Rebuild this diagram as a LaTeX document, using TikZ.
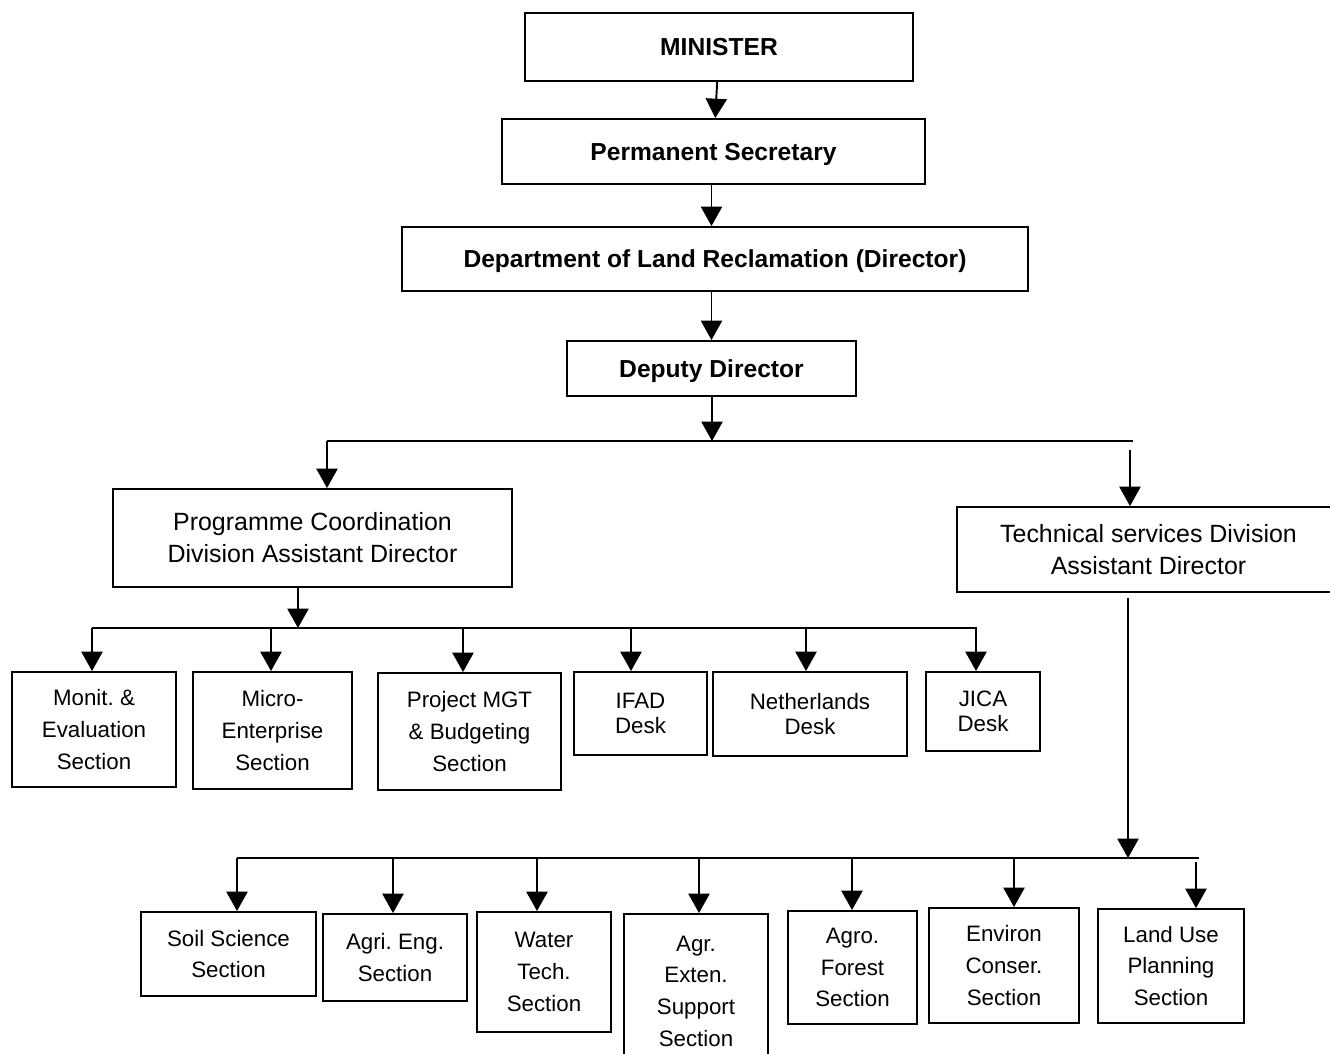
\documentclass[tikz,border=0pt]{standalone}
\usepackage{fontspec}
\setmainfont{Liberation Sans}
\usetikzlibrary{arrows.meta, positioning}
\frenchspacing

\begin{document}
\begin{tikzpicture}[x=0.02cm, y=-0.02cm, line width=1.1pt,
    box/.style 2 args={draw, align=center, inner sep=0pt,
      minimum width=#1*0.02cm, minimum height=#2*0.02cm,
      font=\fontsize{12.7}{18}\selectfont},
    hd/.style={font=\fontsize{14}{18.1}\selectfont\bfseries, text height=10pt, text depth=0pt},
    div/.style={font=\fontsize{14.2}{18.2}\selectfont},
    desk/.style={font=\fontsize{12.7}{14.5}\selectfont},
    arr/.style={-{Triangle[length=11pt, width=12pt]}}]
    \useasboundingbox (0,0) rectangle (1330,1054);

    % top chain
    \node[box={388}{68}, hd] (min) at (719,47)     {MINISTER};
    \node[box={423}{65}, hd] (ps) at (713.5,151.5) {Permanent Secretary};
    \node[box={626}{64}, hd] (dept) at (715,259)   {Department of Land Reclamation (Director)};
    \node[box={289}{55}, hd] (dep) at (711.5,368.5) {Deputy Director};
    \draw[arr] (min) -- (ps);
    \draw[arr] (ps.south -| dep) -- (dept.north -| dep);
    \draw[arr] (dept.south -| dep) -- (dep);

    % divisions
    \node[box={399}{98}, div] (pc) at (312.5,538)  {Programme Coordination\\Division Assistant Director};
    \node[box={383}{85}, div] (ts) at (1148.5,549.5) {Technical services Division\\Assistant Director};
    \coordinate (j1) at (712,441);
    \coordinate (j1l) at (327,441);
    \coordinate (j1r) at (1133,441);
    \coordinate (k1) at (1130,450);
    \draw[arr] (dep.south -| j1) -- (j1);
    \draw (j1l) -- (j1r);
    \draw[arr] (j1l) -- (j1l |- pc.north);
    \draw[arr] (k1) -- (k1 |- ts.north);

    % programme coordination sections
    \node[box={164}{115}] (me) at (94,729.5)   {Monit. \&\\Evaluation\\Section};
    \node[box={159}{117}] (mi) at (272.5,730.5) {Micro-\\Enterprise\\Section};
    \node[box={183}{117}] (pm) at (469.5,731.5) {Project MGT\\\& Budgeting\\Section};
    \node[box={133}{83}, desk] (ifad) at (640.5,713.5) {IFAD\\Desk};
    \node[box={194}{84}, desk] (nl) at (810,714)       {Netherlands\\Desk};
    \node[box={114}{79}, desk] (jica) at (983,711.5)   {JICA\\Desk};
    \coordinate (j2) at (298,628);
    \coordinate (j2l) at (92,628);
    \coordinate (j2r) at (977,628);
    \draw[arr] (pc.south -| j2) -- (j2);
    \draw (j2l) -- (j2r);
    \foreach \x/\n in {92/me, 271/mi, 463/pm, 631/ifad, 806/nl, 976/jica} {
      \coordinate (t\n) at (\x,628);
      \draw[arr] (t\n) -- (t\n |- \n.north);
    }

    % technical services sections
    \node[box={175}{84}] (ss) at (228.5,954)   {Soil Science\\Section};
    \node[box={144}{87}] (ae) at (395,957.5)   {Agri. Eng.\\Section};
    \node[box={134}{120}] (wt) at (544,972)    {Water\\Tech.\\Section};
    \node[box={144}{154}] (ax) at (696,991)    {Agr.\\Exten.\\Support\\Section};
    \node[box={129}{113}] (af) at (852.5,967.5) {Agro.\\Forest\\Section};
    \node[box={150}{115}] (ec) at (1004,965.5) {Environ\\Conser.\\Section};
    \node[box={146}{114}] (lu) at (1171,966)   {Land Use\\Planning\\Section};
    \coordinate (j3) at (1128,858);
    \coordinate (j3l) at (237,858);
    \coordinate (j3r) at (1199,858);
    \coordinate (k3) at (1128,598);
    \draw[arr] (k3) -- (j3);
    \draw (j3l) -- (j3r);
    \foreach \x/\n in {237/ss, 393/ae, 537/wt, 699/ax, 852/af, 1014/ec} {
      \coordinate (t\n) at (\x,858);
      \draw[arr] (t\n) -- (t\n |- \n.north);
    }
    \coordinate (tlu) at (1196,862);
    \draw[arr] (tlu) -- (tlu |- lu.north);
\end{tikzpicture}
\end{document}
